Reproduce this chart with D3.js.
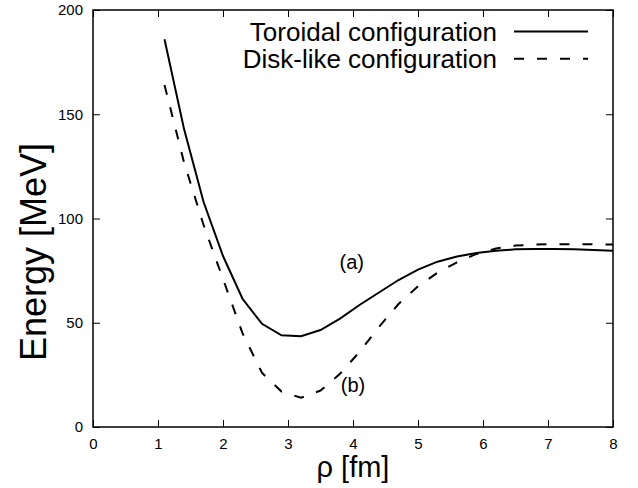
<!DOCTYPE html>
<html>
<head>
<meta charset="utf-8">
<script src="https://cdn.jsdelivr.net/npm/d3@7"></script>
<style>
  body { margin: 0; background: #fff; }
  text { font-family: "Liberation Sans", Arial, sans-serif; fill: #000; }
</style>
</head>
<body>
<svg id="chart" width="638" height="488"></svg>
<script>
// rho grid [fm]
const rho = [1.1, 1.4, 1.7, 2.0, 2.3, 2.6, 2.9, 3.2, 3.5, 3.8, 4.1, 4.4, 4.7, 5.0,
             5.3, 5.6, 5.9, 6.2, 6.5, 6.8, 7.1, 7.4, 7.7, 8.0];
// energies [MeV]
const toroidal = [186, 143, 108, 82, 61.5, 49.5, 44, 43.5, 46.5, 52, 58.5, 64.5, 70.5, 75.5,
                  79.3, 81.8, 83.4, 84.5, 85.2, 85.4, 85.4, 85.2, 84.9, 84.5];
const diskLike = [164, 127, 97, 71, 45, 26, 17, 14, 17.5, 25.5, 36, 48, 59, 67.5,
                  74, 79, 83, 85.6, 87, 87.5, 87.7, 87.7, 87.6, 87.5];
const xTicks = [0, 1, 2, 3, 4, 5, 6, 7, 8];
const yTicks = [0, 50, 100, 150, 200];
const legendNames = ["Toroidal configuration", "Disk-like configuration"];
const curveLabels = [{x: 3.98, y: 76, t: "(a)"}, {x: 4.0, y: 17, t: "(b)"}];

const margin = {top: 10, right: 25, bottom: 61, left: 93};
const W = 638, H = 488;
const iw = W - margin.left - margin.right, ih = H - margin.top - margin.bottom;

const svg = d3.select('#chart');
const g = svg.append('g').attr('transform', `translate(${margin.left},${margin.top})`);

const x = d3.scaleLinear().domain([0, 8]).range([0, iw]);
const y = d3.scaleLinear().domain([0, 200]).range([ih, 0]);

// ticks (inward, mirrored)
const tickLen = 7;
g.append('g').attr('transform', `translate(0,${ih})`)
    .call(d3.axisBottom(x).tickValues(xTicks).tickSize(-tickLen).tickPadding(11).tickFormat(d3.format('d')))
    .call(a => a.select('.domain').remove());
g.append('g')
    .call(d3.axisTop(x).tickValues(xTicks).tickSize(-tickLen).tickFormat(''))
    .call(a => a.select('.domain').remove());
g.append('g')
    .call(d3.axisLeft(y).tickValues(yTicks).tickSize(-tickLen).tickPadding(10).tickFormat(d3.format('d')))
    .call(a => a.select('.domain').remove());
g.append('g').attr('transform', `translate(${iw},0)`)
    .call(d3.axisRight(y).tickValues(yTicks).tickSize(-tickLen).tickFormat(''))
    .call(a => a.select('.domain').remove());
g.selectAll('.tick line').attr('stroke', '#000').attr('stroke-width', 1);
g.selectAll('.tick text').style('font-size', '15px').attr('font-family', '"Liberation Sans", Arial, sans-serif');

// frame
g.append('rect').attr('width', iw).attr('height', ih)
    .attr('fill', 'none').attr('stroke', '#000').attr('stroke-width', 1.5);

const line = d3.line().x(d => x(d[0])).y(d => y(d[1]));
const series = [
    {vals: toroidal, dash: null},
    {vals: diskLike, dash: '10,13'}
];
g.selectAll('path.curve').data(series).join('path')
    .attr('class', 'curve')
    .attr('d', s => line(rho.map((r, i) => [r, s.vals[i]])))
    .attr('fill', 'none').attr('stroke', '#000').attr('stroke-width', 2)
    .attr('stroke-dasharray', s => s.dash);

// curve labels
g.selectAll('text.lab').data(curveLabels).join('text')
    .attr('class', 'lab')
    .attr('x', d => x(d.x)).attr('y', d => y(d.y))
    .attr('text-anchor', 'middle').style('font-size', '20px')
    .text(d => d.t);

// legend
const leg = svg.append('g');
legendNames.forEach((name, i) => {
    const ly = 31.5 + i * 27.3;
    leg.append('text').attr('x', 497).attr('y', ly + 9)
        .attr('text-anchor', 'end').style('font-size', '26px').text(name);
    leg.append('line').attr('x1', 514).attr('x2', 588).attr('y1', ly).attr('y2', ly)
        .attr('stroke', '#000').attr('stroke-width', 2)
        .attr('stroke-dasharray', series[i].dash);
});

// axis titles
svg.append('text').attr('x', margin.left + iw / 2).attr('y', 477)
    .attr('text-anchor', 'middle').style('font-size', '29px').text('ρ [fm]');
svg.append('text').attr('transform', 'translate(46,252) rotate(-90)')
    .attr('text-anchor', 'middle').style('font-size', '36px').text('Energy [MeV]');
</script>
</body>
</html>
